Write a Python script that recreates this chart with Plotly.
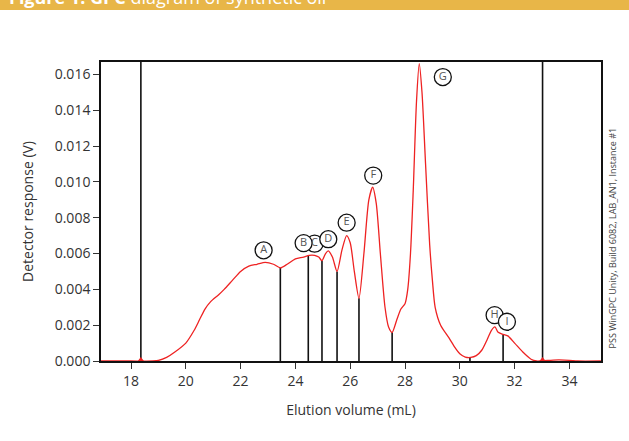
import numpy as np
import plotly.graph_objects as go

# Chromatogram (elution volume mL, detector response V)
elution_ml = [16.9, 18.0, 18.8, 19.0, 19.3, 19.6, 20.0, 20.3, 20.5, 20.7, 20.9, 21.2, 21.4, 21.7,
              22.0, 22.3, 22.6, 22.9, 23.2, 23.45, 23.7, 24.0, 24.3, 24.5, 24.7, 24.85, 24.97,
              25.1, 25.2, 25.35, 25.52, 25.7, 25.87, 26.0, 26.15, 26.32, 26.5, 26.68, 26.82,
              26.95, 27.1, 27.27, 27.4, 27.53, 27.7, 27.85, 28.0, 28.1, 28.2, 28.3, 28.42, 28.52,
              28.62, 28.75, 28.9, 29.0, 29.1, 29.3, 29.6, 29.8, 30.0, 30.2, 30.4, 30.6, 30.8,
              31.0, 31.15, 31.28, 31.4, 31.55, 31.75, 32.0, 32.3, 32.6, 32.8, 33.2, 33.6, 34.0,
              34.3, 35.15]
response_v = [0, 0, 0, 0.00003, 0.0002, 0.0005, 0.0010, 0.0017, 0.0023, 0.0029, 0.0033, 0.0037,
              0.0040, 0.0045, 0.0050, 0.0053, 0.0054, 0.0055, 0.0054, 0.0052, 0.0054, 0.0057,
              0.0058, 0.0059, 0.0059, 0.0058, 0.0056, 0.0060, 0.00615, 0.0058, 0.0050, 0.0062,
              0.0070, 0.0066, 0.0050, 0.0035, 0.0060, 0.0090, 0.0097, 0.0088, 0.0060, 0.0030,
              0.0019, 0.0016, 0.0023, 0.0029, 0.0032, 0.0040, 0.0060, 0.0095, 0.0145, 0.0166,
              0.0150, 0.0110, 0.0065, 0.0045, 0.0030, 0.0020, 0.0013, 0.0008, 0.0004, 0.00022,
              0.0002, 0.0003, 0.0006, 0.0012, 0.0017, 0.0019, 0.0016, 0.0015, 0.0014, 0.0010,
              0.0005, 0.0001, 0, 0.00003, 0.00006, 0.00004, 0, 0]

# Integration limits and peak separators (mL)
limits_ml = [18.36, 33.02]
separators_ml = [23.45, 24.47, 24.97, 25.52, 26.32, 27.53, 30.37, 31.58]

# Peak labels
peak_labels = ["A", "C", "B", "D", "E", "F", "G", "H", "I"]
label_x = [22.84, 24.7, 24.3, 25.2, 25.87, 26.84, 29.38, 31.27, 31.72]
label_y = [0.00618, 0.00655, 0.00658, 0.0068, 0.00772, 0.01035, 0.01585, 0.00256, 0.00219]

x_ticks = [18, 20, 22, 24, 26, 28, 30, 32, 34]
y_top = 0.01669

fig = go.Figure()

# separators
sx, sy = [], []
for s in separators_ml:
    h = float(np.interp(s, elution_ml, response_v))
    sx += [s, s, None]
    sy += [0, h, None]
for s in limits_ml:
    sx += [s, s, None]
    sy += [0, y_top, None]
fig.add_trace(go.Scatter(x=sx, y=sy, mode="lines", line=dict(color="#111111", width=1.6),
                         hoverinfo="skip", showlegend=False))

fig.add_trace(go.Scatter(x=elution_ml, y=response_v, mode="lines",
                         line=dict(color="#ee2222", width=1.3, shape="spline", smoothing=0.7),
                         showlegend=False, cliponaxis=False))

fig.add_trace(go.Scatter(x=limits_ml, y=[0, 0], mode="markers",
                         marker=dict(symbol="triangle-up", color="#ee2222", size=8),
                         showlegend=False, cliponaxis=False))

fig.add_trace(go.Scatter(x=label_x, y=label_y, mode="markers+text", text=peak_labels,
                         textposition="middle center",
                         textfont=dict(family="Open Sans", size=11, color="#555555"),
                         marker=dict(symbol="circle", size=17, color="white",
                                     line=dict(color="#111111", width=1.3)),
                         showlegend=False, cliponaxis=False))

axis_common = dict(showline=True, linecolor="#111111", linewidth=1.6, mirror=True,
                   ticks="outside", ticklen=6, tickwidth=1.4, tickcolor="#333333",
                   showgrid=False, zeroline=False,
                   tickfont=dict(family="Open Sans", size=14, color="#333333"))

fig.update_xaxes(range=[16.905, 35.153], tickvals=x_ticks, **axis_common,
                 title=dict(text="Elution volume (mL)", standoff=17,
                            font=dict(family="Open Sans", size=14, color="#333333")))
fig.update_yaxes(range=[0, y_top], dtick=0.002, tick0=0, tickformat=".3f", **axis_common,
                 title=dict(text="Detector response (V)", standoff=18,
                            font=dict(family="Open Sans", size=14, color="#333333")))

fig.add_shape(type="rect", xref="paper", yref="paper", x0=-0.25, x1=1.1,
              y0=(361 - 10) / 299, y1=1.3, fillcolor="#E8B648", line=dict(width=0), layer="above")
fig.add_annotation(xref="paper", yref="paper", x=-0.188, y=1.219, xanchor="left", yanchor="middle",
                   text="<b>Figure 1:</b> <b>GPC</b> diagram of synthetic oil", showarrow=False,
                   font=dict(family="Open Sans", size=18, color="white"))
fig.add_annotation(xref="paper", yref="paper", x=1.022, y=0.41, xanchor="center", yanchor="middle",
                   textangle=-90, text="PSS WinGPC Unity, Build 6082, LAB_AN1, Instance #1",
                   showarrow=False, font=dict(family="Open Sans", size=9, color="#444444"))

fig.update_layout(width=629, height=441, margin=dict(l=101, r=28, t=62, b=80),
                  paper_bgcolor="white", plot_bgcolor="white")

fig.write_html("out.html", config={"displayModeBar": False},
               post_script="document.body.style.margin='0px';document.body.style.overflow='hidden';")
